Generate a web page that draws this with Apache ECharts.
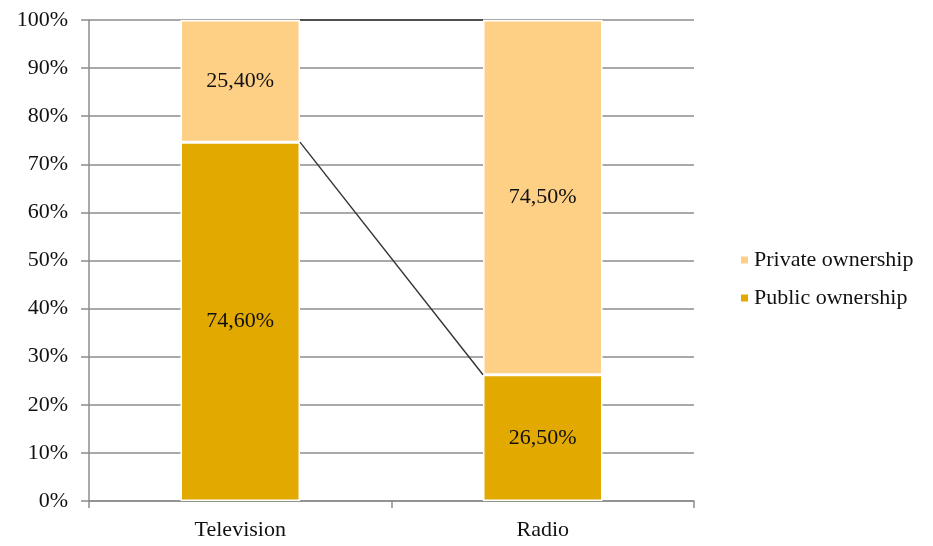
<!DOCTYPE html>
<html>
<head>
<meta charset="utf-8">
<script src="https://cdn.jsdelivr.net/npm/echarts@6/dist/echarts.min.js"></script>
<style>
  html, body { margin: 0; padding: 0; background: #fff; }
  #chart { width: 933px; height: 546px; }
</style>
</head>
<body>
<div id="chart"></div>
<script>
const categories = ['Television', 'Radio']
const publicValues = [74.6, 26.5]
const privateValues = [25.4, 74.5]
const yTicks = [0, 10, 20, 30, 40, 50, 60, 70, 80, 90, 100]

const font = '"Liberation Serif", "Times New Roman", serif'
const publicColor = '#E2A900'
const privateColor = '#FED086'
const textColor = '#111'

// 100% stacked: each column is scaled to its own total
const totals = publicValues.map((v, i) => v + privateValues[i])
const publicShare = publicValues.map((v, i) => v / totals[i] * 100)
const privateShare = privateValues.map((v, i) => v / totals[i] * 100)

const fmt = v => v.toFixed(2).replace('.', ',') + '%'

// series lines between the bars (Excel style)
const barRatio = 0.395
const seriesLines = {
  type: 'custom',
  silent: true,
  z: 5,
  data: [
    [0, publicShare[0], publicShare[1]],
    [0, publicShare[0] + privateShare[0], publicShare[1] + privateShare[1]]
  ],
  renderItem: (params, api) => {
    const a = api.coord([0, api.value(1)])
    const b = api.coord([1, api.value(2)])
    const half = api.size([1, 0])[0] * barRatio / 2
    return {
      type: 'line',
      shape: { x1: a[0] + half, y1: a[1], x2: b[0] - half, y2: b[1] },
      style: { stroke: '#333', lineWidth: 1.4 }
    }
  }
}

const chart = echarts.init(document.getElementById('chart'))
chart.setOption({
  animation: false,
  textStyle: { fontFamily: font },
  grid: { left: 89, right: 239, top: 20, bottom: 45 },
  legend: {
    data: ['Private ownership', 'Public ownership'],
    orient: 'vertical',
    left: 734,
    top: 244,
    itemWidth: 9,
    itemHeight: 9,
    itemGap: 16,
    icon: 'rect',
    textStyle: { fontFamily: font, fontSize: 22, color: textColor }
  },
  xAxis: {
    type: 'category',
    data: categories,
    axisLine: { lineStyle: { color: '#8c8c8c', width: 1.5 } },
    axisTick: { show: true, length: 7, lineStyle: { color: '#8c8c8c', width: 1.5 } },
    axisLabel: { fontFamily: font, fontSize: 22, color: textColor, margin: 18 }
  },
  yAxis: {
    type: 'value',
    min: 0,
    max: 100,
    interval: 10,
    axisLine: { show: true, lineStyle: { color: '#8c8c8c', width: 1.5 } },
    axisTick: { show: true, length: 8, lineStyle: { color: '#8c8c8c', width: 1.5 } },
    axisLabel: {
      fontFamily: font, fontSize: 22, color: textColor, margin: 21,
      formatter: v => yTicks.includes(v) ? v + '%' : ''
    },
    splitLine: { lineStyle: { color: '#8c8c8c', width: 1.5 } }
  },
  series: [
    {
      name: 'Public ownership',
      type: 'bar',
      stack: 'total',
      barWidth: (barRatio * 100) + '%',
      data: publicShare,
      itemStyle: { color: publicColor, borderColor: '#fff', borderWidth: 1.5 },
      label: {
        show: true, position: 'inside', fontFamily: font, fontSize: 22, color: textColor,
        formatter: p => fmt(publicValues[p.dataIndex])
      }
    },
    {
      name: 'Private ownership',
      type: 'bar',
      stack: 'total',
      data: privateShare,
      itemStyle: { color: privateColor, borderColor: '#fff', borderWidth: 1.5 },
      label: {
        show: true, position: 'inside', fontFamily: font, fontSize: 22, color: textColor,
        formatter: p => fmt(privateValues[p.dataIndex])
      }
    },
    seriesLines
  ]
})
</script>
</body>
</html>
